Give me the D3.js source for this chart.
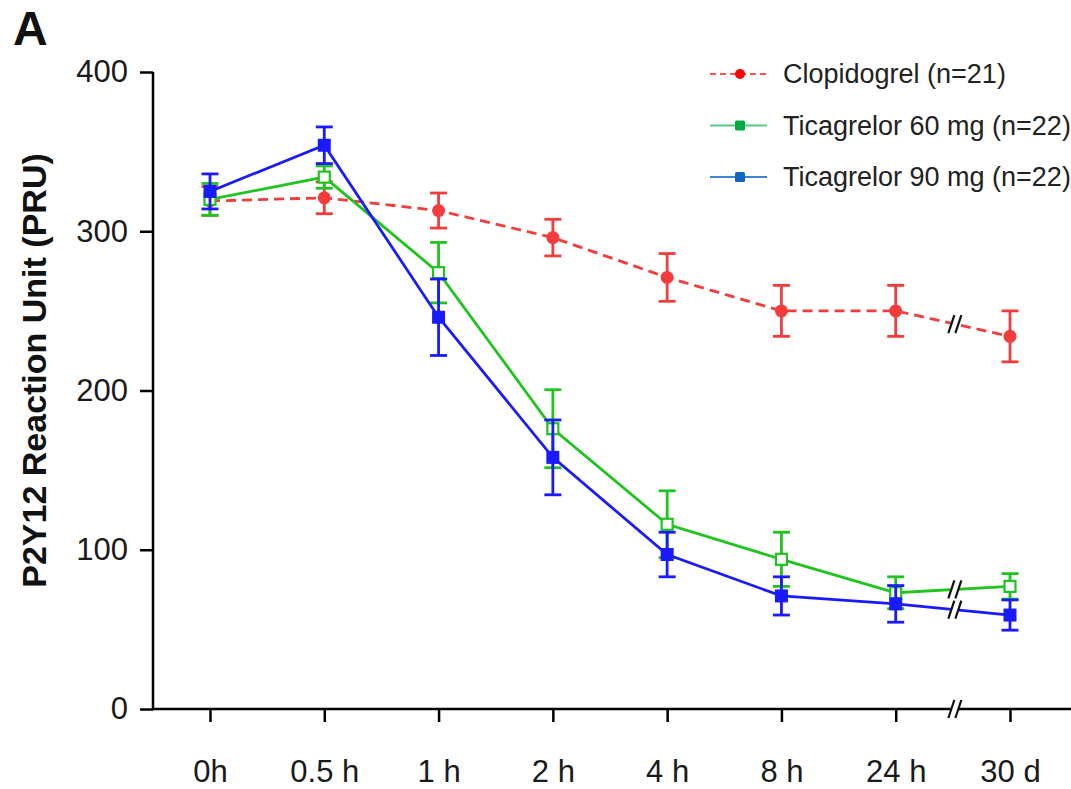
<!DOCTYPE html>
<html>
<head>
<meta charset="utf-8">
<script src="https://cdn.jsdelivr.net/npm/d3@7"></script>
<style>
  body { margin: 0; background: #fff; }
  svg { font-family: 'Liberation Sans', Arial, sans-serif; }
</style>
</head>
<body>
<div id="chart"></div>
<script>
const timepoints = ['0h', '0.5 h', '1 h', '2 h', '4 h', '8 h', '24 h', '30 d']
const yTicks = [0, 100, 200, 300, 400]

const clopidogrel = [319, 321, 313, 296, 271, 250, 250, 234]
const clopidogrelErr = [9, 10, 11, 11.5, 15, 16, 16, 16]
const tica60 = [320, 334, 274, 176, 116, 94, 73, 77]
const tica60Err = [10, 7, 19, 24.5, 21, 17, 10, 8]
const tica90 = [325, 354, 246, 158, 97, 71, 66, 59]
const tica90Err = [11, 11.5, 24, 23.5, 14, 12, 11.5, 9.5]

const series = [
  { name: 'Clopidogrel (n=21)', values: clopidogrel, err: clopidogrelErr, color: '#f43c3c', shape: 'circle', dash: '10,6', legendLine: '#f55', legendMark: '#f00' },
  { name: 'Ticagrelor 60 mg (n=22)', values: tica60, err: tica60Err, color: '#1fc41f', shape: 'openSquare', dash: null, legendLine: '#5c8', legendMark: '#0a4' },
  { name: 'Ticagrelor 90 mg (n=22)', values: tica90, err: tica90Err, color: '#1a1aff', shape: 'square', dash: null, legendLine: '#3b86d6', legendMark: '#1466c4' }
]

const width = 1071
const height = 789

const svg = d3.select('#chart')
  .append('svg')
  .attr('width', width)
  .attr('height', height)

const x = d3.scalePoint()
  .domain(timepoints)
  .range([210, 1010])

const y = d3.scaleLinear()
  .domain([0, 400])
  .range([709, 72])

const axisX0 = 153
const breakX = (x('24 h') + x('30 d')) / 2 + 2

// y axis
const yAxis = svg.append('g')
  .attr('transform', `translate(${axisX0},0)`)
  .call(d3.axisLeft(y).tickValues(yTicks).tickSize(13).tickPadding(12))
yAxis.select('.domain').attr('stroke', '#000').attr('stroke-width', 2.5)
  .attr('d', `M0,${y(400)}V${y(0)}`)
yAxis.selectAll('.tick line').attr('stroke', '#000').attr('stroke-width', 2.5)
yAxis.selectAll('.tick text')
  .attr('font-size', 31)
  .attr('font-family', "'Liberation Sans', Arial, sans-serif")
  .attr('fill', '#1a1a1a')

// x axis
const xAxis = svg.append('g')
  .attr('transform', `translate(0,${y(0)})`)
  .call(d3.axisBottom(x).tickSize(13))
xAxis.select('.domain').attr('stroke', '#000').attr('stroke-width', 2.5)
  .attr('d', `M${axisX0 - 1},0H1071`)
xAxis.selectAll('.tick line').attr('stroke', '#000').attr('stroke-width', 2.5)
xAxis.selectAll('.tick text')
  .attr('y', 73)
  .attr('dy', null)
  .attr('font-size', 31)
  .attr('font-family', "'Liberation Sans', Arial, sans-serif")
  .attr('fill', '#1a1a1a')

// y label
svg.append('text')
  .attr('transform', `translate(46,${(y(0) + y(400)) / 2 - 20}) rotate(-90)`)
  .attr('text-anchor', 'middle')
  .attr('font-size', 34)
  .attr('font-weight', 'bold')
  .attr('fill', '#111')
  .text('P2Y12 Reaction Unit (PRU)')

// panel letter
svg.append('text')
  .attr('x', 13)
  .attr('y', 45)
  .attr('font-size', 48)
  .attr('font-weight', 'bold')
  .attr('fill', '#111')
  .text('A')

const line = d3.line()
  .x((d, i) => x(timepoints[i]))
  .y(d => y(d))

function breakMark (cx, cy) {
  const g = svg.append('g')
  g.append('rect')
    .attr('x', cx - 4).attr('y', cy - 9).attr('width', 8).attr('height', 18)
    .attr('fill', '#fff')
  ;[-3.5, 3.5].forEach(dx => {
    g.append('line')
      .attr('x1', cx + dx - 3).attr('y1', cy + 9)
      .attr('x2', cx + dx + 3).attr('y2', cy - 9)
      .attr('stroke', '#111')
      .attr('stroke-width', 2.2)
  })
}

series.forEach(s => {
  const g = svg.append('g')

  g.append('path')
    .datum(s.values)
    .attr('d', line)
    .attr('fill', 'none')
    .attr('stroke', s.color)
    .attr('stroke-width', 2.8)
    .attr('stroke-dasharray', s.dash)

  // error bars
  s.values.forEach((v, i) => {
    const cx = x(timepoints[i])
    const e = s.err[i]
    g.append('line')
      .attr('x1', cx).attr('x2', cx)
      .attr('y1', y(v + e)).attr('y2', y(v - e))
      .attr('stroke', s.color).attr('stroke-width', 2.8)
    ;[v + e, v - e].forEach(c => {
      g.append('line')
        .attr('x1', cx - 8.5).attr('x2', cx + 8.5)
        .attr('y1', y(c)).attr('y2', y(c))
        .attr('stroke', s.color).attr('stroke-width', 2.8)
    })
  })

  // markers
  s.values.forEach((v, i) => {
    const cx = x(timepoints[i])
    const cy = y(v)
    if (s.shape === 'circle') {
      g.append('circle').attr('cx', cx).attr('cy', cy).attr('r', 6.5).attr('fill', s.color)
    } else if (s.shape === 'square') {
      g.append('rect').attr('x', cx - 6.5).attr('y', cy - 6.5).attr('width', 13).attr('height', 13).attr('fill', s.color)
    } else {
      g.append('rect').attr('x', cx - 5.5).attr('y', cy - 5.5).attr('width', 11).attr('height', 11)
        .attr('fill', '#fff').attr('stroke', s.color).attr('stroke-width', 2.2)
    }
  })

  // break mark on the line between 24 h and 30 d
  const x1 = x('24 h')
  const x2 = x('30 d')
  const t = (breakX - x1) / (x2 - x1)
  const by = y(s.values[6]) + (y(s.values[7]) - y(s.values[6])) * t
  breakMark(breakX, by)
})

breakMark(breakX, y(0))

// legend
const legend = svg.append('g').attr('transform', 'translate(710,74)')
series.forEach((s, i) => {
  const row = legend.append('g').attr('transform', `translate(0,${i * 51.5})`)
  row.append('line')
    .attr('x1', 0).attr('x2', 57).attr('y1', 0).attr('y2', 0)
    .attr('stroke', s.legendLine).attr('stroke-width', 2.2)
    .attr('stroke-dasharray', s.dash ? '6,4' : null)
  if (s.shape === 'circle') {
    row.append('circle').attr('cx', 30).attr('cy', 0).attr('r', 5).attr('fill', s.legendMark)
  } else {
    row.append('rect').attr('x', 25).attr('y', -5).attr('width', 10).attr('height', 10).attr('rx', 1.5).attr('fill', s.legendMark)
  }
  row.append('text')
    .attr('x', 73).attr('y', 9)
    .attr('font-size', 27)
    .attr('fill', '#222')
    .text(s.name)
})
</script>
</body>
</html>
